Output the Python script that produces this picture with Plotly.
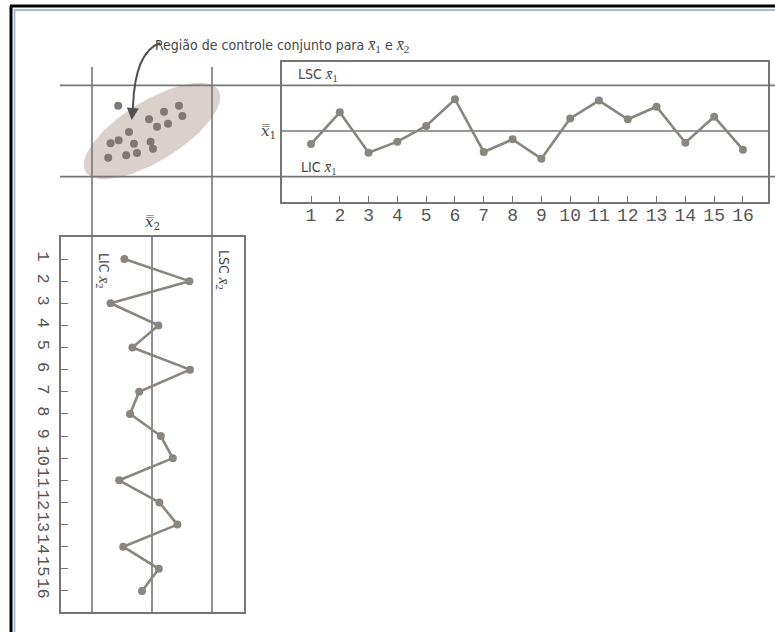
import numpy as np
import plotly.graph_objects as go

W, H = 775, 632

# ---- data -------------------------------------------------------------
samples = list(range(1, 17))
tick_labels = [str(s) for s in samples]

# sample means of variable 1 (top chart) and variable 2 (side chart),
# expressed in standard-error units around the centre line
xbar1 = [-0.86, 1.23, -1.43, -0.70, 0.33, 2.09, -1.38, -0.55,
         -1.82, 0.83, 2.00, 0.77, 1.60, -0.77, 0.94, -1.23]
xbar2 = [-1.38, 1.87, -2.07, 0.32, -0.98, 1.90, -0.64, -1.10,
         0.44, 1.04, -1.64, 0.37, 1.27, -1.44, 0.34, -0.50]

LC1, LSC1, LIC1 = 0.0, 3.0, -3.0
LC2, LSC2, LIC2 = 0.0, 3.0, -3.0

# pairs (x̄2, x̄1) plotted in the joint control region
joint_x2 = [-1.69, 1.35, 0.60, 1.52, -0.15, 0.80, 0.25, -1.15,
            -1.67, -2.07, -0.90, -0.07, 0.05, -0.75, -1.29, -2.19]
joint_x1 = [1.66, 1.66, 1.27, 0.99, 0.77, 0.48, 0.28, -0.07,
            -0.61, -0.81, -0.84, -0.70, -1.16, -1.45, -1.60, -1.76]

# elliptical joint region: centre and the two semi-axis vectors
ell_center = (0.0, 0.0)
ell_major = (3.32, 2.69)
ell_minor = (-0.79, 1.68)

# ---- style ------------------------------------------------------------
LINE = "#767676"
DATA = "#8b8580"
DOT = "#7f7873"
TXT = "#474747"
SANS = "Liberation Sans Narrow, DejaVu Sans Condensed, Arial Narrow, sans-serif"
SERIF = "Liberation Serif, DejaVu Serif, serif"
MONO = "Liberation Mono, DejaVu Sans Mono, monospace"


def px(x):
    return x / W


def py(y):
    return 1 - y / H


def xb(sub, size=15):
    return (f"<span style='font-family:{SERIF};font-size:{size}px'>"
            f"<i>x\u0304</i><sub>{sub}</sub></span>")


def xbb(sub, size=15):
    return (f"<span style='font-family:DejaVu Serif;font-size:{size}px'>"
            f"<i>x\u033f</i><sub>{sub}</sub></span>")


fig = go.Figure()

# joint region ellipse
t = np.linspace(0, 2 * np.pi, 200)
ex = ell_center[0] + np.cos(t) * ell_major[0] + np.sin(t) * ell_minor[0]
ey = ell_center[1] + np.cos(t) * ell_major[1] + np.sin(t) * ell_minor[1]
fig.add_trace(go.Scatter(x=ex, y=ey, xaxis="x3", yaxis="y3", mode="lines",
                         fill="toself", fillcolor="rgba(214,203,199,0.9)",
                         line=dict(width=0), hoverinfo="skip"))
fig.add_trace(go.Scatter(x=joint_x2, y=joint_x1, xaxis="x3", yaxis="y3",
                         mode="markers", marker=dict(size=8, color=DOT)))

# x̄1 chart (horizontal)
fig.add_trace(go.Scatter(x=samples, y=xbar1, xaxis="x", yaxis="y",
                         mode="lines+markers",
                         line=dict(color=DATA, width=2.6),
                         marker=dict(size=8, color=DATA)))

# x̄2 chart (vertical, samples running downwards)
fig.add_trace(go.Scatter(x=xbar2, y=samples, xaxis="x2", yaxis="y2",
                         mode="lines+markers",
                         line=dict(color=DATA, width=2.6),
                         marker=dict(size=8, color=DATA)))

top_dom_x = [px(282), px(768)]
top_dom_y = [py(202), py(62)]
side_dom_x = [px(61), px(244)]
side_dom_y = [py(612), py(237)]
range1 = [-4.67, 4.54]
range2 = [-4.55, 4.60]

axis_common = dict(showgrid=False, zeroline=False, showline=True,
                   mirror=True, linecolor=LINE, linewidth=1.6)

fig.update_layout(
    width=W, height=H,
    margin=dict(l=0, r=0, t=0, b=0),
    paper_bgcolor="white",
    plot_bgcolor="rgba(0,0,0,0)",
    showlegend=False,
    xaxis=dict(domain=top_dom_x, anchor="y", range=[-0.007, 16.87],
               tickmode="array", tickvals=samples, ticktext=tick_labels,
               ticks="inside", ticklen=6, tickwidth=1.4, tickcolor=LINE,
               tickfont=dict(family=MONO, size=18, color="#555555"),
               ticklabelstandoff=-4, **axis_common),
    yaxis=dict(domain=top_dom_y, anchor="x", range=range1,
               showticklabels=False, ticks="", **axis_common),
    xaxis2=dict(domain=side_dom_x, anchor="y2", range=range2,
                showticklabels=False, ticks="", **axis_common),
    yaxis2=dict(domain=side_dom_y, anchor="x2", range=[16.95, 0.006],
                tickmode="array", tickvals=samples, ticktext=tick_labels,
                ticks="inside", ticklen=7, tickwidth=1.4, tickcolor=LINE,
                tickangle=90,
                tickfont=dict(family=MONO, size=17, color="#555555"),
                ticklabelstandoff=1, **axis_common),
    xaxis3=dict(domain=side_dom_x, anchor="y3", range=range2, visible=False),
    yaxis3=dict(domain=top_dom_y, anchor="x3", range=range1, visible=False),
)

shapes = []
# limits of x̄1, running across the joint region and the chart
for v in (LSC1, LIC1):
    shapes.append(dict(type="line", xref="paper", yref="y",
                       x0=px(60), x1=1, y0=v, y1=v,
                       line=dict(color=LINE, width=1.6)))
shapes.append(dict(type="line", xref="x domain", yref="y", x0=0, x1=1,
                   y0=LC1, y1=LC1, layer="below",
                   line=dict(color=LINE, width=1.6)))
# limits of x̄2, running down through the joint region and the chart
for v in (LIC2, LSC2):
    shapes.append(dict(type="line", xref="x2", yref="paper",
                       x0=v, x1=v, y0=py(67), y1=py(612),
                       line=dict(color=LINE, width=1.6)))
shapes.append(dict(type="line", xref="x2", yref="y2 domain", x0=LC2, x1=LC2,
                   y0=0, y1=1, layer="below",
                   line=dict(color=LINE, width=1.6)))

# curved leader from the caption to the ellipse
shapes.append(dict(type="path", xref="paper", yref="paper",
                   path=(f"M {px(160)},{py(43)} Q {px(135)},{py(52)} "
                         f"{px(133)},{py(106)}"),
                   line=dict(color="#505050", width=2)))

# page frame
shapes.append(dict(type="line", xref="paper", yref="paper",
                   x0=px(10), x1=1, y0=py(6), y1=py(6),
                   line=dict(color="black", width=3)))
shapes.append(dict(type="line", xref="paper", yref="paper",
                   x0=px(11), x1=px(11), y0=py(6), y1=0,
                   line=dict(color="black", width=3)))
shapes.append(dict(type="line", xref="paper", yref="paper",
                   x0=px(14), x1=1, y0=py(10), y1=py(10),
                   line=dict(color="#a8bcd8", width=2)))
shapes.append(dict(type="line", xref="paper", yref="paper",
                   x0=px(14.5), x1=px(14.5), y0=py(10), y1=0,
                   line=dict(color="#a8bcd8", width=2)))
fig.update_layout(shapes=shapes)

ann = []
ann.append(dict(xref="paper", yref="paper", x=px(153), y=py(45),
                xanchor="left", yanchor="middle", showarrow=False,
                text="Região de controle conjunto para " + xb(1, 16) + " e " + xb(2, 16),
                font=dict(family=SANS, size=14, color=TXT)))
# arrow head of the leader
ann.append(dict(xref="paper", yref="paper", x=px(131.7), y=py(120),
                ax=1.5, ay=-16, text="", showarrow=True, arrowhead=2,
                arrowsize=1.2, arrowwidth=2, arrowcolor="#505050"))
ann.append(dict(xref="paper", yref="paper", x=px(296), y=py(75),
                xanchor="left", yanchor="middle", showarrow=False,
                text="LSC " + xb(1), font=dict(family=SANS, size=14, color=TXT)))
ann.append(dict(xref="paper", yref="paper", x=px(299), y=py(168),
                xanchor="left", yanchor="middle", showarrow=False,
                text="LIC " + xb(1), font=dict(family=SANS, size=14, color=TXT)))
ann.append(dict(xref="paper", yref="y", x=px(278), y=LC1,
                xanchor="right", yanchor="middle", showarrow=False,
                text=xbb(1), font=dict(family=SERIF, size=15, color=TXT)))
ann.append(dict(xref="x2", yref="paper", x=LC2, y=py(222),
                xanchor="center", yanchor="middle", showarrow=False,
                text=xbb(2), font=dict(family=SERIF, size=15, color=TXT)))
ann.append(dict(xref="x2", yref="paper", x=LIC2, y=py(270), xshift=11,
                xanchor="center", yanchor="middle", showarrow=False,
                textangle=90, text="LIC " + xb(2),
                font=dict(family=SANS, size=14, color=TXT)))
ann.append(dict(xref="x2", yref="paper", x=LSC2, y=py(270), xshift=11,
                xanchor="center", yanchor="middle", showarrow=False,
                textangle=90, text="LSC " + xb(2),
                font=dict(family=SANS, size=14, color=TXT)))
fig.update_layout(annotations=ann)

fig.write_html("out.html")
